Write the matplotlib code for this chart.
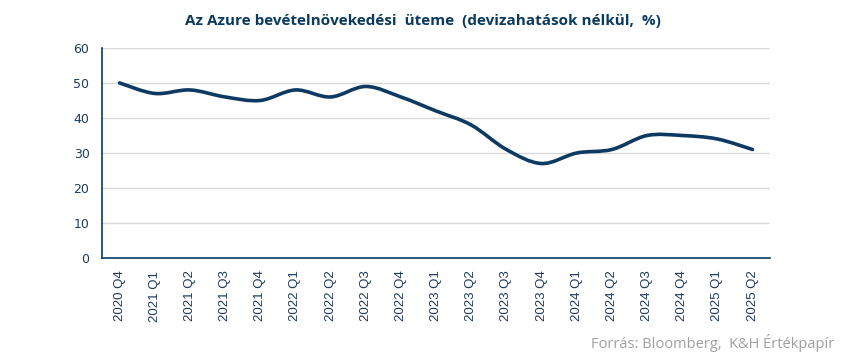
"""Azure revenue growth chart."""
import numpy as np
import matplotlib
matplotlib.use('Agg')
import matplotlib.pyplot as plt
from matplotlib.path import Path
from matplotlib.patches import PathPatch

quarters = ['2020 Q4', '2021 Q1', '2021 Q2', '2021 Q3', '2021 Q4',
            '2022 Q1', '2022 Q2', '2022 Q3', '2022 Q4',
            '2023 Q1', '2023 Q2', '2023 Q3', '2023 Q4',
            '2024 Q1', '2024 Q2', '2024 Q3', '2024 Q4',
            '2025 Q1', '2025 Q2']
growth = [50, 47, 48, 46, 45, 48, 46, 49, 46, 42, 38, 31, 27, 30, 31, 35, 35, 34, 31]
yticks = [0, 10, 20, 30, 40, 50, 60]

NAVY = '#0e3a62'
TEXT = '#1f3a5c'


def smooth_path(x, y, tension=1 / 6.):
    """Excel-like smoothed line as cubic bezier segments through the points."""
    pts = np.column_stack([x, y]).astype(float)
    verts = [pts[0]]
    codes = [Path.MOVETO]
    n = len(pts)
    for i in range(n - 1):
        p0 = pts[max(i - 1, 0)]
        p1 = pts[i]
        p2 = pts[i + 1]
        p3 = pts[min(i + 2, n - 1)]
        c1 = p1 + (p2 - p0) * tension
        c2 = p2 - (p3 - p1) * tension
        verts += [c1, c2, p2]
        codes += [Path.CURVE4] * 3
    return Path(verts, codes)


fig = plt.figure(figsize=(8.5, 3.55), dpi=100)
ax = fig.add_axes([0.12, 0.273, 0.786, 0.592])

x = np.arange(len(quarters))
path = smooth_path(x, growth)
ax.add_patch(PathPatch(path, facecolor='none', edgecolor=NAVY, lw=2.6,
                       capstyle='round', joinstyle='round'))

ax.set_xlim(-0.5, len(quarters) - 0.5)
ax.set_ylim(0, 60)
ax.set_yticks(yticks)
ax.set_xticks(x)
ax.set_xticklabels(quarters, rotation=90, fontsize=9.5, color=TEXT,
                   family='Liberation Sans')
ax.tick_params(axis='y', labelsize=9, labelcolor=TEXT, length=0, pad=9)
ax.tick_params(axis='x', length=0, pad=9)
ax.grid(axis='y', color='#d9d9d9', lw=1)
ax.set_axisbelow(True)
for side in ['top', 'right']:
    ax.spines[side].set_visible(False)
for side in ['left', 'bottom']:
    ax.spines[side].set_color(NAVY)
    ax.spines[side].set_linewidth(1.2)

fig.text(0.497, 0.94, 'Az Azure bevételnövekedési  üteme  (devizahatások nélkül,  %)',
         ha='center', va='center', fontsize=11, fontweight='bold', color='#0b3a5e',
         family='Open Sans')
fig.text(0.982, 0.035, 'Forrás: Bloomberg,  K&H Értékpapír', ha='right', va='center',
         fontsize=10.5, color='#a0a0a0', family='Open Sans')

fig.savefig('out.png', dpi=100)
plt.close(fig)
